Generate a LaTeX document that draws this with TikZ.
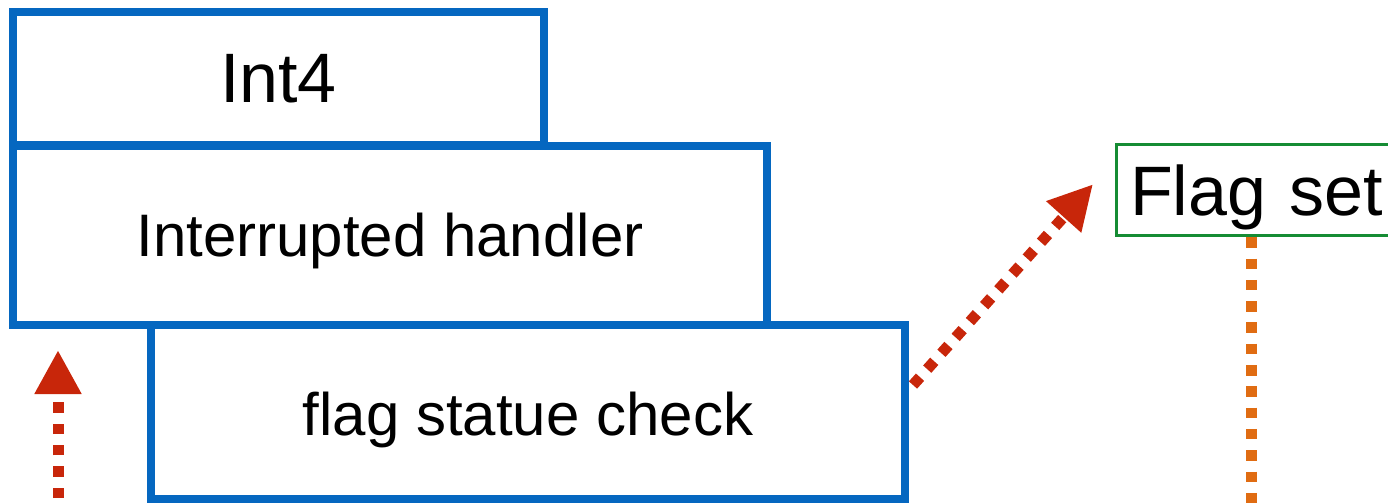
\documentclass[tikz,border=0pt]{standalone}
\usepackage{fontspec}
\setmainfont{Liberation Sans}
\usetikzlibrary{arrows.meta}
\definecolor{boxblue}{RGB}{5,103,192}
\definecolor{arrred}{RGB}{200,38,10}
\definecolor{dotorange}{RGB}{224,108,18}
\definecolor{flaggreen}{RGB}{22,140,52}
\tikzset{
  x=1pt, y=1pt,
  bluebox/.style={draw=boxblue, line width=7.5pt, fill=white, rectangle, inner sep=0pt, outer sep=0pt, anchor=north west, text depth=0pt},
  greenbox/.style={draw=flaggreen, line width=3pt, fill=white, rectangle, anchor=north west, inner sep=0pt, outer sep=0pt, text depth=0pt},
  reddots/.style={draw=arrred, line width=11pt, dash pattern=on 10.5pt off 10.8pt, -{Triangle[length=44pt,width=44pt]}},
  orangedots/.style={draw=dotorange, line width=11pt, dash pattern=on 10.5pt off 10.8pt},
  bigtext/.style={font=\fontsize{70}{80}\selectfont},
  midtext/.style={font=\fontsize{60}{70}\selectfont}
}
\begin{document}
\begin{tikzpicture}
\useasboundingbox (0,0) rectangle (1388,-503);
\clip (0,0) rectangle (1388,-503);
\node[bluebox, bigtext, minimum width=531pt, minimum height=133pt, text height=48.4pt] (int4) at (13,-12) {Int4};
\node[bluebox, midtext, minimum width=754pt, minimum height=179pt, text height=42.4pt] (handler) at (13,-146) {Interrupted handler};
\node[bluebox, midtext, minimum width=754pt, minimum height=174pt, text height=46pt] (check) at (151,-325) {flag statue check};
\draw[orangedots] (1251.7,-237.2) -- (1251.7,-520);
\node[greenbox, bigtext, minimum height=91pt, text width=300pt, align=left, inner xsep=14pt, text height=49.6pt] (flag) at (1116,-144.7) {Flag set};
\coordinate (upstart) at (58,-519.3);
\draw[reddots] (upstart) -- ([xshift=45pt,yshift=-25pt]handler.south west);
\draw[reddots] ([xshift=8pt,yshift=-60pt]check.north east) -- ([xshift=-23pt,yshift=6pt]flag.west);
\end{tikzpicture}
\end{document}
